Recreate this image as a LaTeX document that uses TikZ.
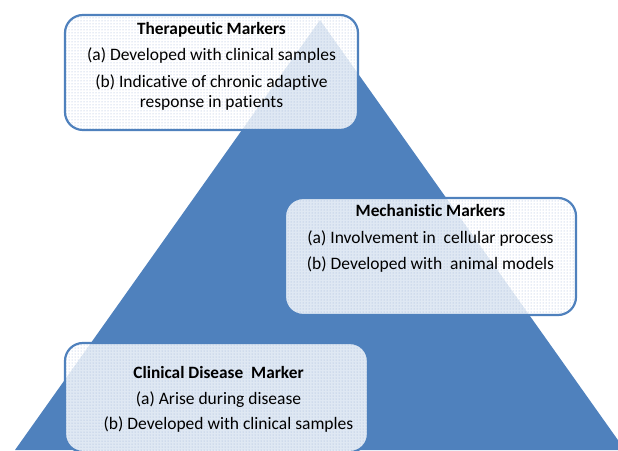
\documentclass[tikz,border=0pt]{standalone}
\usepackage{fontspec}
\setmainfont{Carlito}[Ligatures=NoCommon]
\usetikzlibrary{positioning,patterns}
\definecolor{pyrblue}{HTML}{4F81BD}
\definecolor{dotblue}{HTML}{9DB4D8}
\newcommand{\boxtitlefont}{\fontsize{17.3}{20}\selectfont\bfseries}

\begin{document}
\begin{tikzpicture}[x=1pt, y=1pt,
    markerbox/.style={draw=pyrblue, line width=2.2pt, rounded corners=18pt,
                      preaction={fill=white, fill opacity=0.82},
                      pattern=dots, pattern color=dotblue},
    boxtext/.style={align=center, inner sep=0pt, font=\fontsize{17.5}{20}\selectfont}
]
\useasboundingbox (0,0) rectangle (618,450);

% --- pyramid ---
\fill[pyrblue] (15,0) coordinate (left) -- (320,430) coordinate (apex) -- (625,0) coordinate (right) -- cycle;

% --- boxes ---
\node[markerbox, minimum width=293, minimum height=115] (ther) at (211.5,377.5) {};
\node[markerbox, minimum width=291, minimum height=117] (mech) at (430.5,193.5) {};
\node[markerbox, minimum width=303, minimum height=109] (clin) at (216.5,52.5) {};

% --- texts ---
\node[boxtext, below=8pt of ther.north] (thertxt)
  {{\boxtitlefont Therapeutic Markers}\\[6pt]
   (a) Developed with clinical samples\\[7pt]
   (b) Indicative of chronic adaptive\\
   response in patients};
\node[boxtext, below=7pt of mech.north] (mechtxt)
  {{\boxtitlefont Mechanistic Markers}\\[7pt]
   (a) Involvement in\ \ cellular process\\[6pt]
   (b) Developed with\ \ animal models};
\node[boxtext, below=24pt of clin.north, xshift=2pt] (clintxt)
  {{\boxtitlefont Clinical Disease\ \ Marker}\\[6pt]
   (a) Arise during disease\\[5pt]
   \hspace*{20pt}(b) Developed with clinical samples};

\end{tikzpicture}
\end{document}
